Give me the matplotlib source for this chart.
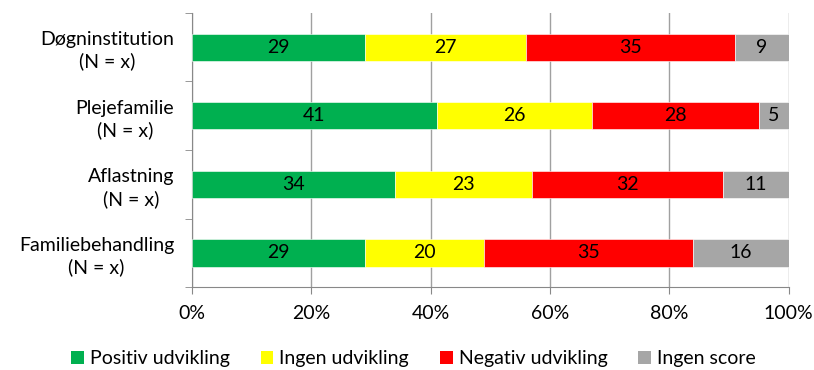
import numpy as np
import matplotlib.pyplot as plt
from matplotlib.patches import Patch

plt.rcParams['font.family'] = ['Lato', 'DejaVu Sans']

categories = ['Døgninstitution\n(N = x)', 'Plejefamilie\n(N = x)',
              'Aflastning\n(N = x)', 'Familiebehandling\n(N = x)']
series = ['Positiv udvikling', 'Ingen udvikling', 'Negativ udvikling', 'Ingen score']
positiv = [29, 41, 34, 29]
ingen_udv = [27, 26, 23, 20]
negativ = [35, 28, 32, 35]
ingen_score = [9, 5, 11, 16]
colors = ['#00B050', '#FFFF00', '#FF0000', '#A6A6A6']

data = [positiv, ingen_udv, negativ, ingen_score]
fs = 14

fig = plt.figure(figsize=(8.14, 3.7), dpi=100)
ax = fig.add_axes([0.236, 0.224, 0.733, 0.741])

y = np.arange(len(categories))
left = np.zeros(len(categories))
for vals, col, name in zip(data, colors, series):
    vals = np.array(vals)
    ax.barh(y, vals, left=left, height=0.4, color=col, label=name, zorder=3,
            edgecolor='white', linewidth=0.4)
    for yi, l, v in zip(y, left, vals):
        ax.text(l + v / 2, yi, str(v), ha='center', va='center', fontsize=fs,
                color='black', zorder=4)
    left = left + vals

ax.set_xlim(0, 100)
ax.set_ylim(len(categories) - 0.5, -0.5)
ax.set_xticks(np.arange(0, 101, 20))
ax.set_xticklabels(['%d%%' % v for v in range(0, 101, 20)], fontsize=fs)
ax.set_yticks(y)
ax.set_yticklabels(categories, fontsize=fs, ha='right', multialignment='center',
                   linespacing=1.3)
ax.set_yticks(np.arange(-0.5, len(categories)), minor=True)
ax.tick_params(axis='y', which='major', length=0, pad=13)
ax.tick_params(axis='y', which='minor', length=5, color='#888888', direction='out')
ax.tick_params(axis='x', length=5, color='#888888', pad=8)

ax.grid(axis='x', color='#A0A0A0', linewidth=1, zorder=0)
for s in ['top', 'right']:
    ax.spines[s].set_visible(False)
for s in ['left', 'bottom']:
    ax.spines[s].set_color('#888888')

handles = [Patch(facecolor=c, label=n) for c, n in zip(colors, series)]
fig.legend(handles=handles, loc='lower center', bbox_to_anchor=(0.508, -0.04), ncol=4,
           frameon=False, fontsize=fs, handlelength=0.65, handleheight=0.65,
           handletextpad=0.3, columnspacing=1.6)

fig.savefig('out.png', dpi=100)
